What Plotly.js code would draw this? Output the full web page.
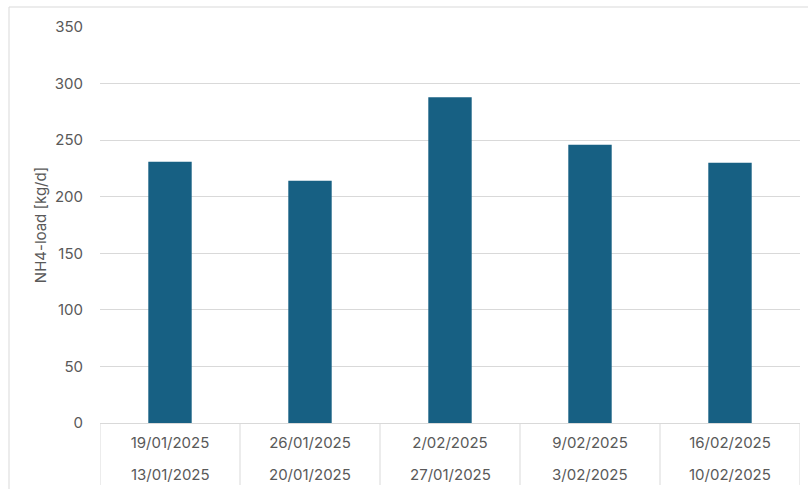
<!DOCTYPE html>
<html>
<head>
<meta charset="utf-8">
<script src="https://cdn.plot.ly/plotly-3.0.1.min.js"></script>
<style>html,body{margin:0;padding:0;background:#fff;}#chart{width:808px;height:489px;}</style>
</head>
<body>
<div id="chart"></div>
<script>
const weekEnd = ["19/01/2025", "26/01/2025", "2/02/2025", "9/02/2025", "16/02/2025"];
const weekStart = ["13/01/2025", "20/01/2025", "27/01/2025", "3/02/2025", "10/02/2025"];
const nh4Load = [231, 214, 288, 246, 230];
const yTicks = [0, 50, 100, 150, 200, 250, 300, 350];
const yTitle = "NH4-load [kg/d]";

const textColor = "#595959";
const lineColor = "#d9d9d9";
const fontFam = "Inter, 'Open Sans', sans-serif";
const idx = weekEnd.map((_, i) => i);

const trace = {
  type: "bar",
  x: idx,
  y: nh4Load,
  marker: {color: "#176083", line: {width: 0}},
  width: 0.31,
  hoverinfo: "y"
};

// second row of category labels
const annotations = idx.map(i => ({
  x: i, xref: "x", y: -0.1288, yref: "paper",
  text: weekStart[i], showarrow: false,
  xanchor: "center", yanchor: "middle",
  font: {family: fontFam, size: 15, color: textColor}
}));

// group dividers
const shapes = [];
for (let i = 0; i <= idx.length; i++) {
  shapes.push({
    type: "line", xref: "x", yref: "paper",
    x0: i - 0.5, x1: i - 0.5, y0: 0, y1: -0.1566,
    line: {color: lineColor, width: 1}
  });
}
shapes.push({
  type: "rect", xref: "paper", yref: "paper",
  x0: -0.13, x1: 1.05, y0: -0.3, y1: 1.0505,
  line: {color: lineColor, width: 1}, fillcolor: "rgba(0,0,0,0)", layer: "below"
});

const layout = {
  width: 808,
  height: 489,
  margin: {l: 100, r: 8, t: 27, b: 66, pad: 0},
  paper_bgcolor: "#ffffff",
  plot_bgcolor: "#ffffff",
  showlegend: false,
  font: {family: fontFam, size: 15, color: textColor},
  xaxis: {
    type: "linear",
    range: [-0.5, idx.length - 0.5],
    tickvals: idx,
    ticktext: weekEnd,
    showgrid: false,
    showline: true,
    linecolor: lineColor,
    linewidth: 1,
    ticks: "",
    ticklabelstandoff: 6,
    tickfont: {family: fontFam, size: 15, color: textColor},
    zeroline: false
  },
  yaxis: {
    range: [0, 350],
    tickvals: yTicks,
    ticktext: yTicks.map(String),
    showgrid: true,
    gridcolor: lineColor,
    gridwidth: 1,
    zeroline: false,
    showline: false,
    ticks: "",
    ticklabelstandoff: 16,
    tickfont: {family: fontFam, size: 15, color: textColor},
    title: {text: yTitle, font: {family: fontFam, size: 15, color: textColor}, standoff: 4}
  },
  annotations: annotations,
  shapes: shapes
};

Plotly.newPlot("chart", [trace], layout, {displayModeBar: false, staticPlot: true});
</script>
</body>
</html>
